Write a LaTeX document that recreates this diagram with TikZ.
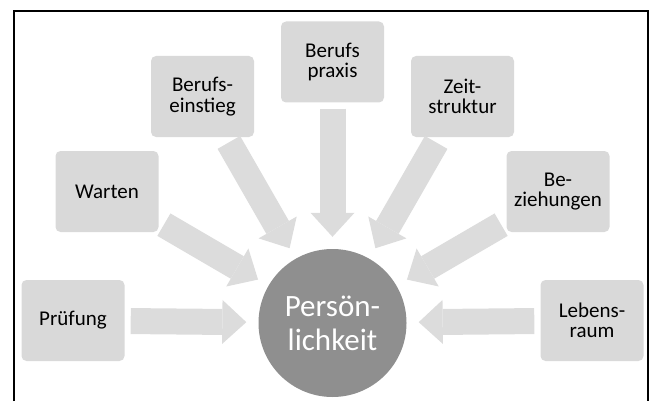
\documentclass[tikz,border=0pt]{standalone}
\usepackage{fontspec}
\setmainfont{Carlito}
\usetikzlibrary{arrows.meta}
\definecolor{boxgrey}{HTML}{D9D9D9}
\definecolor{arrowgrey}{HTML}{DCDCDC}
\definecolor{kreisgrey}{HTML}{8F8F8F}

\begin{document}
\begin{tikzpicture}[x=1pt, y=-1pt,
        b/.style={rectangle, rounded corners=5pt, fill=boxgrey, minimum width=103pt, minimum height=81pt, inner sep=1pt, align=center, font=\fontsize{21}{20.5}\selectfont},
        p/.style={color=arrowgrey, line width=26pt, -{Triangle[width=44pt, length=24pt, line width=0pt, color=arrowgrey, fill=arrowgrey]}, shorten <=6pt, shorten >=12pt}]
            \useasboundingbox (0,0) rectangle (652,401);
            \draw[line width=2pt] (14.3,401) |- (647.5,11) -- (647.5,401);

            \node[circle, fill=kreisgrey, minimum size=148pt, inner sep=0pt, text=white, align=center, font=\fontsize{31}{34}\selectfont] (pers) at (332.5, 323) {Persön-\\lichkeit};

            \node[b] (pruef) at (73, 320.5) {Prüfung};
            \node[b] (wart) at (107, 191.5) {Warten};
            \node[b] (einst) at (202.5, 96.5) {Berufs-\\einstieg};
            \node[b] (praxis) at (332.5, 62) {Berufs\\praxis};
            \node[b] (zeit) at (462.5, 96.5) {Zeit-\\struktur};
            \node[b] (bez) at (558, 191.5) {Be-\\ziehungen};
            \node[b] (leben) at (592, 320.5) {Lebens-\\raum};

            \draw[p] (pruef) -- (pers);
            \draw[p] (wart) -- (pers);
            \draw[p] (einst) -- (pers);
            \draw[p] (praxis) -- (pers);
            \draw[p] (zeit) -- (pers);
            \draw[p] (bez) -- (pers);
            \draw[p] (leben) -- (pers);
        \end{tikzpicture}
\end{document}
